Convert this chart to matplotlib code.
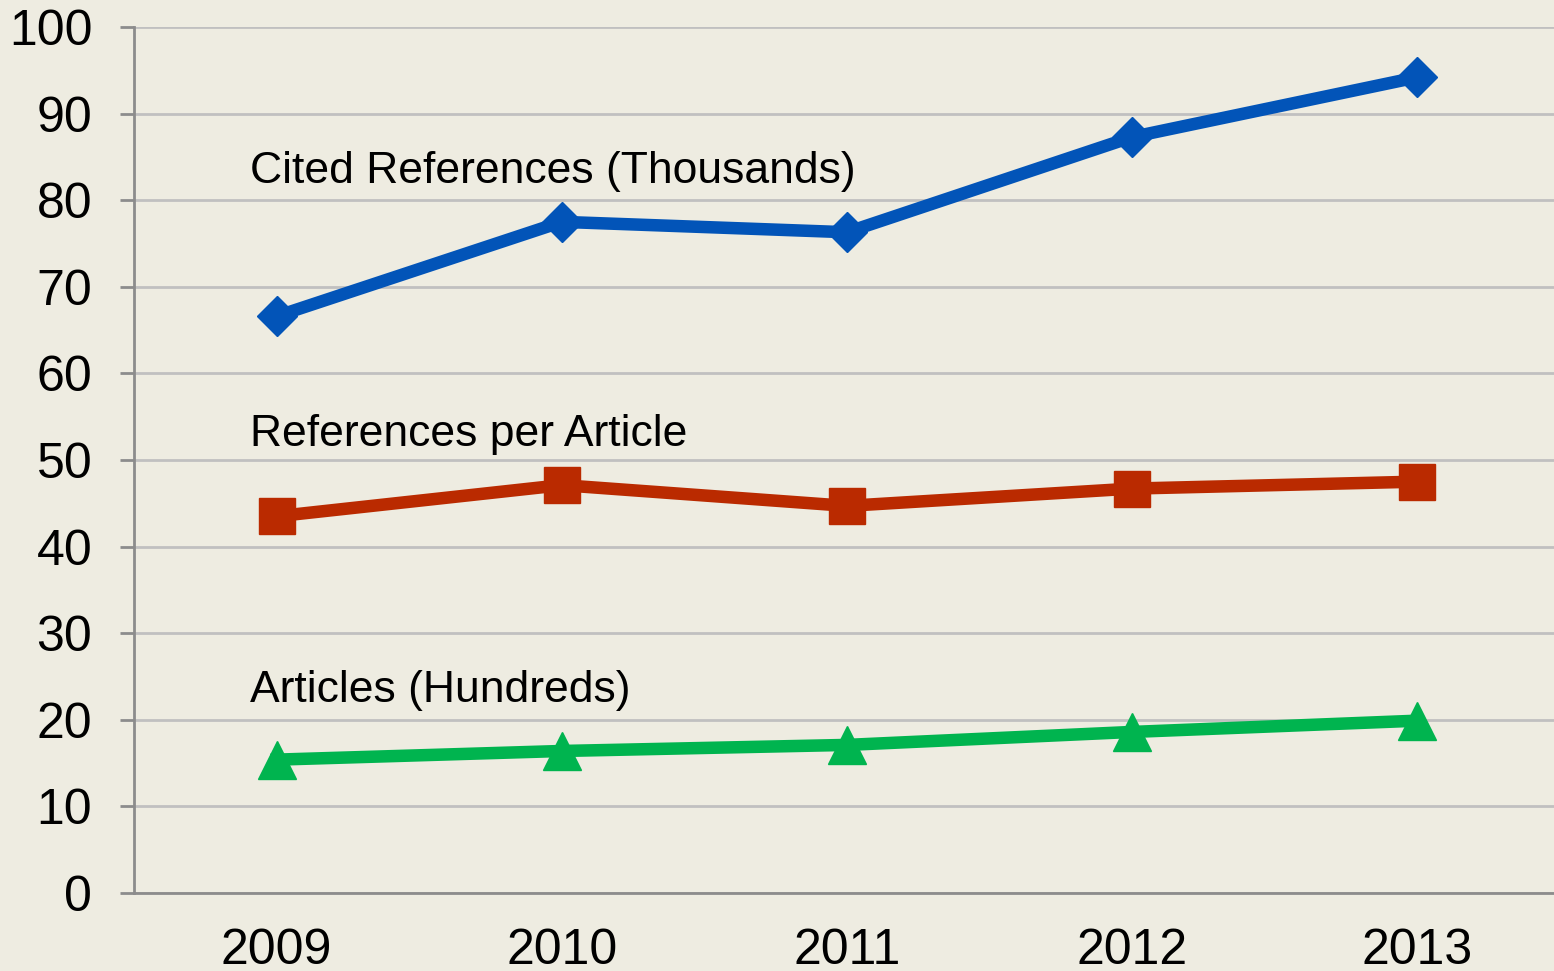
import matplotlib.pyplot as plt

years = ["2009", "2010", "2011", "2012", "2013"]
cited_refs = [66.6, 77.5, 76.3, 87.3, 94.2]
refs_per_article = [43.5, 47.1, 44.7, 46.7, 47.5]
articles = [15.4, 16.4, 17.1, 18.6, 19.9]

bg = "#EEECE1"
plt.rcParams['font.family'] = ['Liberation Sans', 'DejaVu Sans']

fig = plt.figure(figsize=(15.54, 9.71), dpi=100, facecolor=bg)
ax = fig.add_axes([134 / 1554, 1 - 893 / 971, 1426 / 1554, 866 / 971])
ax.set_facecolor(bg)

x = range(len(years))
ax.plot(x, cited_refs, color="#0254B8", lw=9, marker="D", ms=20, zorder=3)
ax.plot(x, refs_per_article, color="#BA2A00", lw=9, marker="s", ms=26, zorder=3)
ax.plot(x, articles, color="#00B44F", lw=9, marker="^", ms=27, zorder=3)

ax.set_xlim(-0.5, 4.5)
ax.set_ylim(0, 100)
ax.set_yticks(range(0, 101, 10))
ax.set_xticks(list(x))
ax.set_xticklabels(years)
ax.yaxis.grid(True, color="#C0C0C0", lw=2)
ax.set_axisbelow(True)

for s in ["top", "right"]:
    ax.spines[s].set_visible(False)
for s in ["left", "bottom"]:
    ax.spines[s].set_color("#8C8C8C")
    ax.spines[s].set_linewidth(2)

ax.tick_params(axis="y", length=10, width=2, color="#8C8C8C", labelsize=36, pad=20)
ax.tick_params(axis="x", length=0, labelsize=36, pad=25)

ax.text(-0.095, 82.0, "Cited References (Thousands)", fontsize=32, va="baseline")
ax.text(-0.095, 51.6, "References per Article", fontsize=32, va="baseline")
ax.text(-0.095, 22.05, "Articles (Hundreds)", fontsize=32, va="baseline")

fig.savefig("out.png", dpi=100, facecolor=bg)
